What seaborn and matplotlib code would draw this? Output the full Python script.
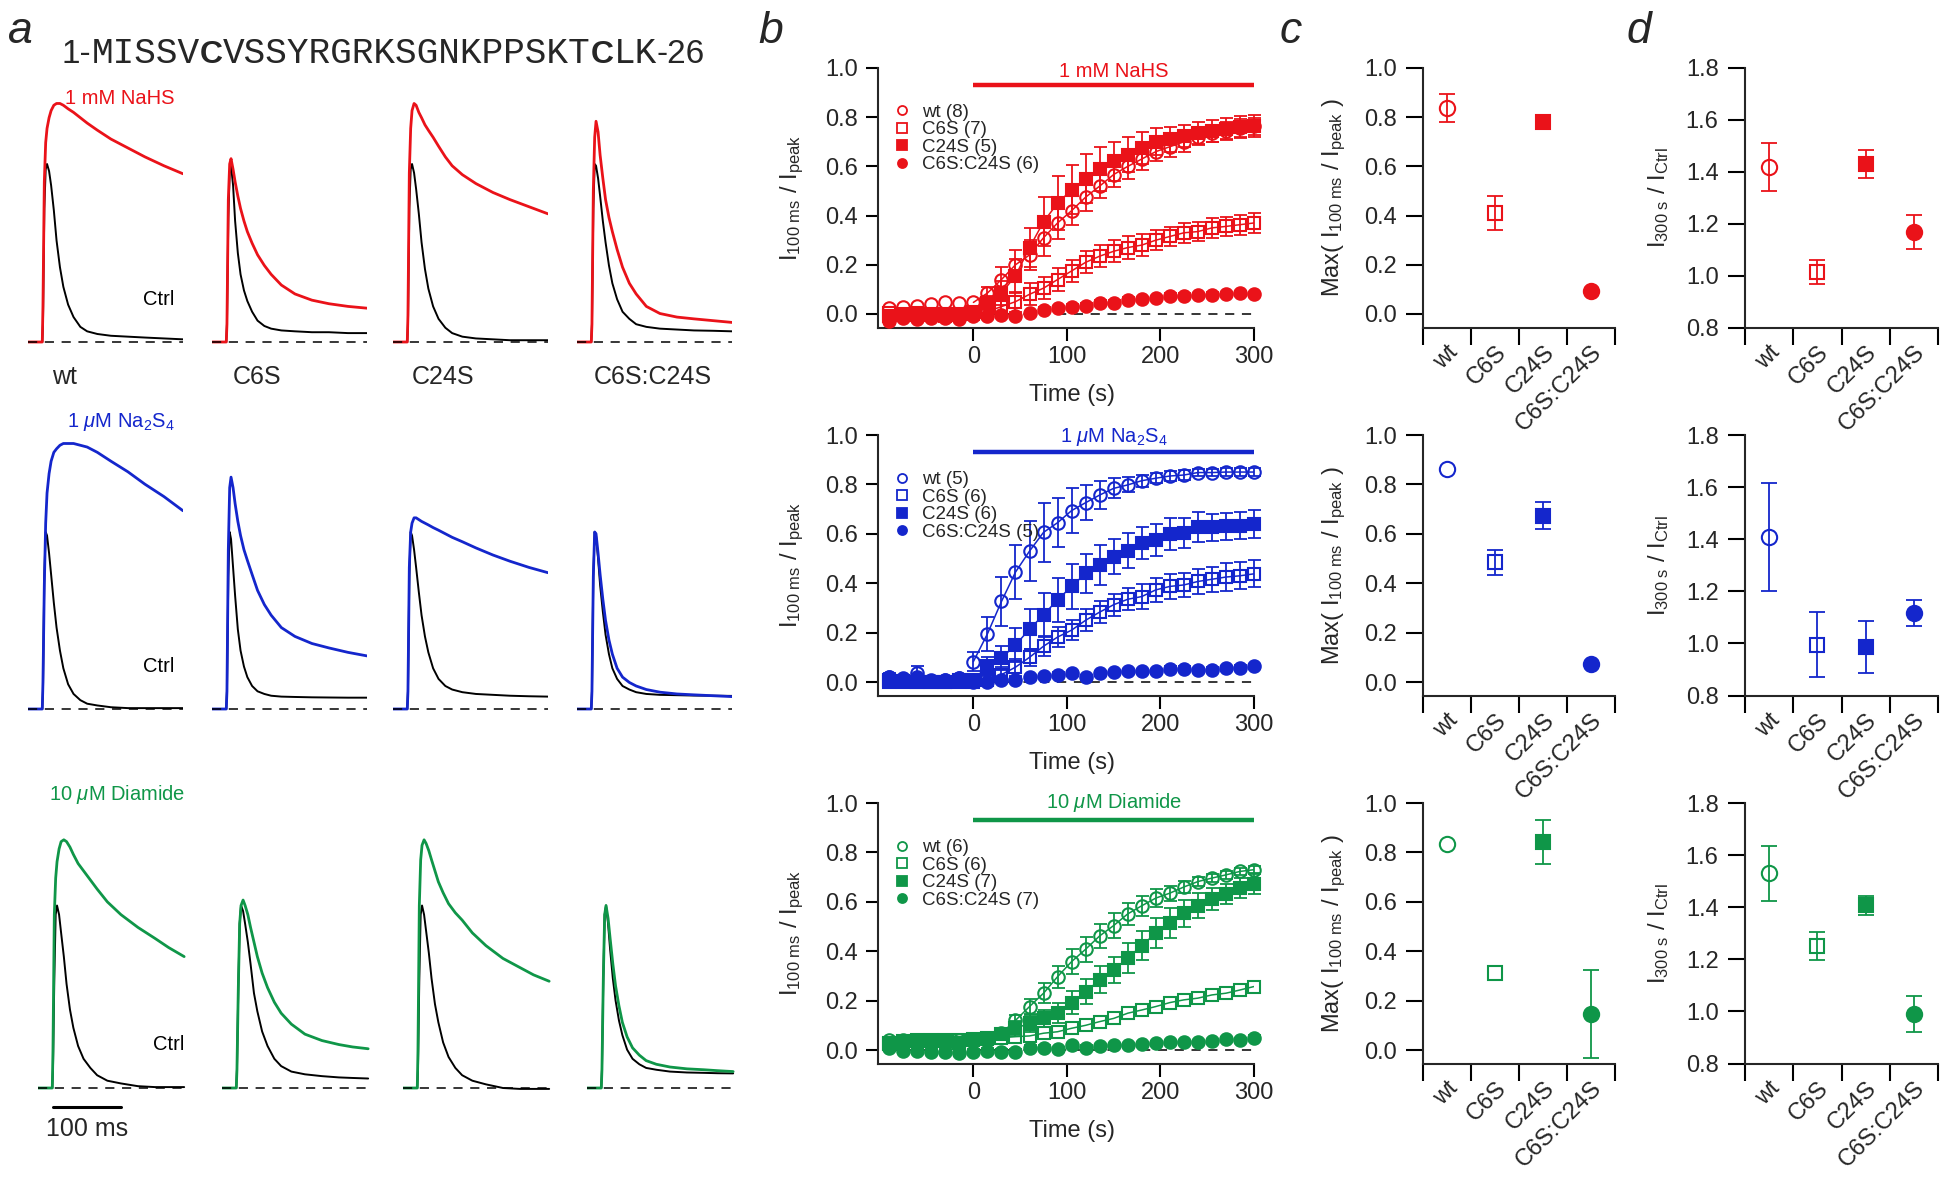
import numpy as np
import pandas as pd
import seaborn as sns
import matplotlib.pyplot as plt
from matplotlib.lines import Line2D
from matplotlib.offsetbox import TextArea, HPacker, AnchoredOffsetbox

# ---------------- data ----------------
mutants = ['wt', 'C6S', 'C24S', 'C6S:C24S']
drugs = ['1 mM NaHS', r'1 $\mathit{\mu}$M Na$_2$S$_4$', r'10 $\mathit{\mu}$M Diamide']
colors = ['#EA1219', '#1426CC', '#0F9648']
n_cells = [[8, 7, 5, 6], [5, 6, 6, 5], [6, 6, 7, 7]]

# panel a: currents normalised to control peak, time in ms from stimulus
t_ms = [-22, -1, 0, 2, 4, 6, 9, 12, 16, 20, 25, 30, 37, 45, 55, 65, 80, 100, 125, 150, 178, 206]
t_ms_diam = [-22, -1, 0, 2, 4, 6, 9, 12, 16, 20, 25, 30, 37, 45, 55, 65, 80, 100, 125, 150, 170, 193]

nahs_ctrl = [
    [0, 0, 0.1, 0.75, 0.97, 1.0, 0.96, 0.88, 0.74, 0.57, 0.42, 0.31, 0.21, 0.14, 0.085, 0.06, 0.045, 0.035, 0.03, 0.025, 0.02, 0.015],
    [0, 0, 0.1, 0.7, 0.95, 0.99, 0.88, 0.68, 0.50, 0.38, 0.29, 0.23, 0.17, 0.12, 0.09, 0.075, 0.065, 0.06, 0.055, 0.055, 0.05, 0.05],
    [0, 0, 0.1, 0.75, 0.97, 1.0, 0.95, 0.86, 0.72, 0.56, 0.41, 0.30, 0.20, 0.13, 0.08, 0.05, 0.03, 0.02, 0.015, 0.01, 0.01, 0.01],
    [0, 0, 0.1, 0.75, 1.0, 0.99, 0.92, 0.82, 0.68, 0.56, 0.43, 0.33, 0.24, 0.17, 0.13, 0.10, 0.085, 0.075, 0.07, 0.065, 0.063, 0.06],
]
nahs_drug = [
    [0, 0, 0.2, 0.9, 1.12, 1.2, 1.26, 1.3, 1.33, 1.34, 1.34, 1.33, 1.31, 1.29, 1.26, 1.23, 1.19, 1.14, 1.09, 1.04, 0.99, 0.945],
    [0, 0, 0.1, 0.8, 1.0, 1.03, 0.97, 0.9, 0.82, 0.75, 0.68, 0.62, 0.555, 0.49, 0.43, 0.38, 0.32, 0.27, 0.235, 0.215, 0.2, 0.19],
    [0, 0, 0.15, 0.95, 1.2, 1.3, 1.34, 1.33, 1.29, 1.26, 1.22, 1.19, 1.15, 1.10, 1.04, 0.99, 0.94, 0.89, 0.84, 0.80, 0.76, 0.72],
    [0, 0, 0.1, 0.85, 1.15, 1.24, 1.18, 1.05, 0.92, 0.80, 0.70, 0.62, 0.52, 0.42, 0.33, 0.27, 0.20, 0.16, 0.14, 0.13, 0.12, 0.11],
]
na2s4_ctrl = [
    [0, 0, 0.1, 0.75, 1.0, 0.98, 0.88, 0.76, 0.60, 0.46, 0.33, 0.23, 0.14, 0.085, 0.05, 0.03, 0.02, 0.01, 0.005, 0.005, 0.005, 0.005],
    [0, 0, 0.1, 0.75, 1.0, 0.96, 0.80, 0.64, 0.45, 0.33, 0.24, 0.18, 0.13, 0.10, 0.085, 0.075, 0.07, 0.068, 0.066, 0.065, 0.064, 0.064],
    [0, 0, 0.1, 0.75, 1.0, 0.98, 0.90, 0.80, 0.66, 0.53, 0.41, 0.32, 0.23, 0.17, 0.13, 0.11, 0.095, 0.085, 0.08, 0.075, 0.072, 0.07],
    [0, 0, 0.1, 0.75, 1.0, 0.98, 0.85, 0.70, 0.55, 0.42, 0.31, 0.23, 0.17, 0.13, 0.11, 0.095, 0.085, 0.08, 0.078, 0.076, 0.075, 0.074],
]
na2s4_drug = [
    [0, 0, 0.15, 0.7, 1.05, 1.22, 1.33, 1.40, 1.45, 1.47, 1.49, 1.50, 1.50, 1.50, 1.49, 1.48, 1.45, 1.40, 1.34, 1.27, 1.20, 1.12],
    [0, 0, 0.1, 0.9, 1.25, 1.31, 1.25, 1.16, 1.06, 0.98, 0.90, 0.84, 0.76, 0.67, 0.59, 0.53, 0.46, 0.41, 0.37, 0.345, 0.32, 0.30],
    [0, 0, 0.1, 0.8, 1.0, 1.05, 1.08, 1.08, 1.07, 1.06, 1.05, 1.04, 1.025, 1.01, 0.99, 0.97, 0.945, 0.91, 0.87, 0.835, 0.80, 0.77],
    [0, 0, 0.1, 0.75, 1.0, 0.99, 0.88, 0.76, 0.62, 0.50, 0.39, 0.31, 0.23, 0.18, 0.15, 0.13, 0.11, 0.095, 0.085, 0.08, 0.075, 0.07],
]
diam_ctrl = [
    [0, 0, 0.1, 0.6, 0.95, 1.0, 0.95, 0.85, 0.72, 0.57, 0.43, 0.33, 0.23, 0.16, 0.11, 0.07, 0.04, 0.025, 0.01, 0.005, 0.005, 0.005],
    [0, 0, 0.1, 0.55, 0.9, 1.0, 0.97, 0.9, 0.8, 0.68, 0.52, 0.42, 0.31, 0.23, 0.16, 0.12, 0.09, 0.075, 0.065, 0.058, 0.055, 0.052],
    [0, 0, 0.1, 0.6, 0.95, 1.0, 0.95, 0.86, 0.74, 0.6, 0.46, 0.36, 0.25, 0.17, 0.11, 0.07, 0.04, 0.02, 0.0, -0.005, -0.005, -0.005],
    [0, 0, 0.1, 0.6, 0.95, 1.0, 0.9, 0.76, 0.6, 0.48, 0.37, 0.29, 0.21, 0.16, 0.13, 0.11, 0.1, 0.09, 0.085, 0.083, 0.081, 0.08],
]
diam_drug = [
    [0, 0, 0.2, 0.95, 1.15, 1.24, 1.31, 1.35, 1.36, 1.35, 1.32, 1.28, 1.23, 1.19, 1.14, 1.09, 1.02, 0.95, 0.88, 0.82, 0.77, 0.72],
    [0, 0, 0.1, 0.55, 0.9, 1.0, 1.03, 1.0, 0.95, 0.88, 0.80, 0.72, 0.63, 0.55, 0.47, 0.41, 0.35, 0.295, 0.26, 0.238, 0.225, 0.215],
    [0, 0, 0.2, 1.0, 1.25, 1.33, 1.36, 1.34, 1.30, 1.25, 1.19, 1.13, 1.07, 1.01, 0.96, 0.92, 0.85, 0.78, 0.71, 0.66, 0.62, 0.585],
    [0, 0, 0.1, 0.6, 0.95, 1.0, 0.93, 0.82, 0.68, 0.56, 0.45, 0.36, 0.28, 0.22, 0.18, 0.15, 0.13, 0.115, 0.105, 0.1, 0.095, 0.09],
]
scale_ms = 100

# panel b: I100ms / Ipeak time courses (mean +/- SEM)
t_s = [-90, -75, -60, -45, -30, -15, 0, 15, 30, 45, 60, 75, 90, 105, 120, 135,
       150, 165, 180, 195, 210, 225, 240, 255, 270, 285, 300]

nahs_wt = [0.024, 0.03, 0.034, 0.04, 0.047, 0.045, 0.047, 0.085, 0.14, 0.20, 0.24, 0.31, 0.37, 0.42,
           0.475, 0.52, 0.567, 0.60, 0.63, 0.66, 0.68, 0.70, 0.72, 0.735, 0.745, 0.756, 0.763]
nahs_wt_err = [0, 0, 0, 0, 0, 0, 0, 0.025, 0.05, 0.06, 0.06, 0.075, 0.065, 0.06,
               0.055, 0.05, 0.05, 0.05, 0.045, 0.04, 0.04, 0.04, 0.035, 0.035, 0.035, 0.035, 0.035]
nahs_c6s = [0.005, 0.0, 0.005, 0.0, 0.0, 0.0, 0.0, 0.01, 0.03, 0.05, 0.08, 0.105, 0.14, 0.175,
            0.21, 0.235, 0.255, 0.27, 0.28, 0.30, 0.315, 0.33, 0.335, 0.35, 0.356, 0.363, 0.37]
nahs_c6s_err = [0, 0, 0, 0, 0, 0, 0, 0.02, 0.03, 0.04, 0.045, 0.045, 0.045, 0.045,
                0.045, 0.045, 0.045, 0.045, 0.045, 0.04, 0.04, 0.04, 0.04, 0.04, 0.04, 0.04, 0.04]
nahs_c24s = [-0.01, -0.005, -0.005, -0.005, -0.01, -0.005, 0.01, 0.045, 0.085, 0.155, 0.27, 0.375, 0.45,
             0.505, 0.55, 0.59, 0.62, 0.648, 0.675, 0.70, 0.71, 0.725, 0.736, 0.745, 0.752, 0.759, 0.763]
nahs_c24s_err = [0.015, 0.015, 0.015, 0.015, 0.015, 0.015, 0.015, 0.03, 0.05, 0.07, 0.08, 0.1, 0.11, 0.1,
                 0.1, 0.09, 0.08, 0.07, 0.065, 0.055, 0.05, 0.045, 0.045, 0.045, 0.045, 0.045, 0.045]
nahs_dbl = [-0.03, -0.015, -0.02, -0.015, -0.015, -0.02, -0.01, -0.01, -0.005, -0.01, 0.004, 0.018, 0.024,
            0.03, 0.034, 0.045, 0.045, 0.058, 0.061, 0.065, 0.075, 0.075, 0.077, 0.078, 0.081, 0.085, 0.081]
nahs_dbl_err = [0.01] * 27

na2s4_wt = [0.02, 0.01, 0.035, 0.01, 0.01, 0.015, 0.083, 0.195, 0.326, 0.445, 0.53, 0.606, 0.645, 0.694,
            0.726, 0.757, 0.784, 0.798, 0.815, 0.825, 0.834, 0.838, 0.848, 0.848, 0.85, 0.85, 0.85]
na2s4_wt_err = [0.015, 0, 0.03, 0, 0, 0, 0.04, 0.07, 0.1, 0.11, 0.12, 0.12, 0.1, 0.09,
                0.07, 0.055, 0.04, 0.03, 0.025, 0.02, 0.02, 0.02, 0.015, 0.015, 0.015, 0.015, 0.015]
na2s4_c6s = [0.0, 0.0, 0.0, 0.0, 0.0, 0.0, 0.0, 0.01, 0.03, 0.06, 0.10, 0.145, 0.182, 0.21,
             0.25, 0.283, 0.313, 0.335, 0.346, 0.373, 0.387, 0.393, 0.407, 0.416, 0.425, 0.43, 0.438]
na2s4_c6s_err = [0, 0, 0, 0, 0, 0, 0, 0.02, 0.03, 0.035, 0.035, 0.04, 0.04, 0.04,
                 0.045, 0.045, 0.045, 0.045, 0.05, 0.05, 0.05, 0.05, 0.05, 0.05, 0.055, 0.055, 0.055]
na2s4_c24s = [0.01, 0.005, 0.0, 0.0, 0.0, 0.01, 0.01, 0.063, 0.097, 0.15, 0.214, 0.272, 0.333, 0.387,
              0.44, 0.474, 0.508, 0.532, 0.562, 0.575, 0.60, 0.602, 0.627, 0.627, 0.63, 0.632, 0.64]
na2s4_c24s_err = [0.02, 0.01, 0.01, 0.01, 0.01, 0.01, 0.01, 0.04, 0.05, 0.07, 0.08, 0.09, 0.09, 0.09,
                  0.08, 0.08, 0.07, 0.07, 0.065, 0.065, 0.065, 0.06, 0.06, 0.055, 0.055, 0.055, 0.055]
na2s4_dbl = [0.02, 0.015, 0.02, 0.005, 0.01, 0.015, 0.0, 0.0, 0.01, 0.01, 0.02, 0.023, 0.03, 0.036,
             0.019, 0.036, 0.039, 0.043, 0.043, 0.043, 0.053, 0.053, 0.047, 0.05, 0.055, 0.057, 0.063]
na2s4_dbl_err = [0.01] * 27

diam_wt = [0.04, 0.04, 0.04, 0.04, 0.04, 0.04, 0.04, 0.045, 0.068, 0.12, 0.176, 0.23, 0.297, 0.358,
           0.408, 0.462, 0.504, 0.551, 0.584, 0.615, 0.635, 0.66, 0.682, 0.696, 0.709, 0.723, 0.73]
diam_wt_err = [0, 0, 0, 0, 0, 0, 0, 0, 0.015, 0.02, 0.03, 0.04, 0.045, 0.05,
               0.05, 0.05, 0.05, 0.045, 0.04, 0.035, 0.03, 0.025, 0.02, 0.015, 0.015, 0.015, 0.015]
diam_c6s = [0.03, 0.035, 0.04, 0.04, 0.04, 0.04, 0.045, 0.045, 0.05, 0.054, 0.057, 0.068, 0.074, 0.088,
            0.10, 0.115, 0.128, 0.149, 0.162, 0.176, 0.192, 0.203, 0.21, 0.223, 0.23, 0.243, 0.257]
diam_c6s_err = [0.0] * 27
diam_c24s = [0.025, 0.03, 0.035, 0.035, 0.035, 0.03, 0.04, 0.05, 0.065, 0.088, 0.108, 0.128, 0.149,
             0.192, 0.236, 0.284, 0.324, 0.372, 0.423, 0.473, 0.514, 0.554, 0.584, 0.612, 0.632, 0.655, 0.673]
diam_c24s_err = [0.01, 0.01, 0.01, 0.01, 0.01, 0.01, 0.015, 0.02, 0.025, 0.03, 0.035, 0.035, 0.04, 0.045,
                 0.05, 0.055, 0.054, 0.06, 0.06, 0.06, 0.06, 0.055, 0.05, 0.045, 0.04, 0.04, 0.04]
diam_dbl = [0.007, -0.003, -0.003, -0.007, -0.007, -0.013, -0.007, -0.003, -0.007, -0.007, 0.01, 0.01,
            0.003, 0.02, 0.01, 0.016, 0.02, 0.02, 0.024, 0.027, 0.032, 0.032, 0.032, 0.036, 0.043, 0.04, 0.049]
diam_dbl_err = [0.01] * 27

# panel c: Max(I100ms / Ipeak); panel d: I300s / ICtrl
c_nahs = [0.837, 0.41, 0.78, 0.092]
c_nahs_err = [0.057, 0.068, 0.0, 0.0]
c_na2s4 = [0.861, 0.484, 0.674, 0.073]
c_na2s4_err = [0.0, 0.05, 0.055, 0.0]
c_diam = [0.835, 0.313, 0.842, 0.146]
c_diam_err = [0.0, 0.0, 0.089, 0.177]
d_nahs = [1.419, 1.013, 1.43, 1.168]
d_nahs_err = [0.093, 0.046, 0.053, 0.066]
d_na2s4 = [1.408, 0.995, 0.985, 1.117]
d_na2s4_err = [0.208, 0.125, 0.1, 0.05]
d_diam = [1.530, 1.251, 1.408, 0.99]
d_diam_err = [0.105, 0.055, 0.037, 0.068]

# ---------------- style ----------------
sns.set_style('ticks')
plt.rcParams['font.family'] = ['Liberation Sans', 'DejaVu Sans']
plt.rcParams['mathtext.fontset'] = 'custom'
plt.rcParams['mathtext.rm'] = 'Liberation Sans'
plt.rcParams['mathtext.it'] = 'Liberation Sans:italic'
plt.rcParams['mathtext.bf'] = 'Liberation Sans:bold'
plt.rcParams['mathtext.default'] = 'regular'
plt.rcParams['axes.linewidth'] = 1.5

W, H = 1950, 1178
fig = plt.figure(figsize=(W / 100, H / 100), dpi=100)


def add_ax(l, t, w, h):
    return fig.add_axes([l / W, 1 - (t + h) / H, w / W, h / H])


markers = ['o', 's', 's', 'o']
filled = [False, False, True, True]


def points(ax, x, y, err, k, col, ms, z):
    # error bars only where the SEM sticks out of the marker
    x, y, err = np.atleast_1d(x), np.atleast_1d(y), np.atleast_1d(err)
    m = err > 0
    if m.any():
        cont = ax.errorbar(x[m], y[m], yerr=err[m], fmt='none', ecolor=col, elinewidth=1.3,
                           capsize=ms * 0.52, capthick=1.3, zorder=z)
        for art in cont.get_children():
            art.set_clip_on(False)
    ax.plot(x, y, ls='none', marker=markers[k], ms=ms, mfc=col if filled[k] else 'none',
            mec=col, mew=1.5, zorder=z + 0.5, clip_on=False)


# ---------------- panel a ----------------
ctrl_rows = [nahs_ctrl, na2s4_ctrl, diam_ctrl]
drug_rows = [nahs_drug, na2s4_drug, diam_drug]
time_rows = [t_ms, t_ms, t_ms_diam]
row_base = [(342, 178), (709, 177), (1088, 182.5)]
row_starts = [[28, 212, 393, 577], [28, 212, 393, 577], [38, 222, 403, 587]]
drug_label_y = [1.37, 1.62, 1.61]
mut_label_x = [13, 9, 6, 3]

for r in range(3):
    base, unit = row_base[r]
    for k in range(4):
        ax = add_ax(row_starts[r][k], base - 1.6 * unit, 155, 1.75 * unit)
        t = time_rows[r]
        sns.lineplot(x=t, y=ctrl_rows[r][k], ax=ax, color='black', lw=1.4,
                     estimator=None, sort=False, legend=False)
        sns.lineplot(x=t, y=drug_rows[r][k], ax=ax, color=colors[r], lw=2.0,
                     estimator=None, sort=False, legend=False)
        ax.plot([t[0], t[-1]], [0, 0], color='black', lw=1.1, ls=(0, (6, 5)), zorder=5)
        ax.set_xlim(-22, 206)
        ax.set_ylim(-0.15, 1.6)
        ax.set_axis_off()
        if r == 0:
            ax.text(mut_label_x[k], -0.197, mutants[k], fontsize=18, ha='left', va='center')
        if k == 0:
            ax.text(194, drug_label_y[r], drugs[r], color=colors[r], fontsize=14.5,
                    ha='right', va='center')
            ax.text(194, 0.24, 'Ctrl', color='black', fontsize=14.5, ha='right', va='center')
            if r == 2:
                ax.plot([0, scale_ms], [-0.104, -0.104], color='black', lw=2.2, clip_on=False)
                ax.text(scale_ms / 2, -0.225, f'{scale_ms} ms', fontsize=18,
                        ha='center', va='center')

# sequence
seq_pieces = [('1-', dict(fontsize=24, family='Liberation Sans')),
              ('MISSV', dict(fontsize=26, family='Liberation Mono')),
              ('C', dict(fontsize=23, family='Liberation Sans', fontweight='bold')),
              ('VSSYRGRKSGNKPPSKT', dict(fontsize=26, family='Liberation Mono')),
              ('C', dict(fontsize=23, family='Liberation Sans', fontweight='bold')),
              ('LK', dict(fontsize=26, family='Liberation Mono')),
              ('-26', dict(fontsize=24, family='Liberation Sans'))]
pack = HPacker(children=[TextArea(s, textprops=kw) for s, kw in seq_pieces],
               align='baseline', pad=0, sep=0)
fig.add_artist(AnchoredOffsetbox(loc='lower left', child=pack, pad=0, borderpad=0,
                                 frameon=False, bbox_to_anchor=(62 / W, 1 - 71 / H),
                                 bbox_transform=fig.transFigure))

# ---------------- panels b, c, d ----------------
b_means = [[nahs_wt, nahs_c6s, nahs_c24s, nahs_dbl],
           [na2s4_wt, na2s4_c6s, na2s4_c24s, na2s4_dbl],
           [diam_wt, diam_c6s, diam_c24s, diam_dbl]]
b_errs = [[nahs_wt_err, nahs_c6s_err, nahs_c24s_err, nahs_dbl_err],
          [na2s4_wt_err, na2s4_c6s_err, na2s4_c24s_err, na2s4_dbl_err],
          [diam_wt_err, diam_c6s_err, diam_c24s_err, diam_dbl_err]]
c_vals = [(c_nahs, c_nahs_err), (c_na2s4, c_na2s4_err), (c_diam, c_diam_err)]
d_vals = [(d_nahs, d_nahs_err), (d_na2s4, d_na2s4_err), (d_diam, d_diam_err)]
fit_start = [6, 6, 0]
bar_label_y = [0.985, 0.99, 1.0]
rows_tb = [(68, 327.5), (435, 695.6), (803, 1063.6)]
cat_x = [0.5, 1.5, 2.5, 3.5]


def style_ax(ax, ticklen):
    sns.despine(ax=ax)
    ax.tick_params(axis='both', which='major', direction='out', length=ticklen, width=1.5,
                   labelsize=17, color='black')
    ax.yaxis.set_major_formatter(plt.FormatStrFormatter('%.1f'))


for r in range(3):
    top, bot = rows_tb[r]
    col = colors[r]

    # b
    ax = add_ax(878, top, 376, bot - top)
    for k in range(3):
        i0 = fit_start[r]
        sns.lineplot(x=t_s[i0:], y=b_means[r][k][i0:], ax=ax, color=col, lw=1.1,
                     estimator=None, sort=False, legend=False)
    ax.hlines(0, t_s[0], t_s[-1], color='black', lw=1.1, ls=(0, (6, 5)), zorder=1)
    for k in range(4):
        points(ax, t_s, b_means[r][k], b_errs[r][k], k, col, 9.0, 3 + k)
    ax.hlines(0.93, 0, 300, color=col, lw=3.2, clip_on=False)
    ax.text(150, bar_label_y[r], drugs[r], color=col, fontsize=14.5, ha='center', va='center')
    handles = [Line2D([], [], ls='none', marker=markers[k], ms=6.5,
                      mfc=col if filled[k] else 'none', mec=col, mew=1.3) for k in range(4)]
    labels = [f'{m} ({n})' for m, n in zip(mutants, n_cells[r])]
    ax.legend(handles, labels, loc='upper left', bbox_to_anchor=(0.04, 0.862), frameon=False,
              fontsize=13.5, handlelength=1.0, handletextpad=0.55, labelspacing=0.02,
              borderpad=0, borderaxespad=0)
    ax.set_xlim(-102, 300)
    ax.set_ylim(-0.055, 1.0)
    ax.set_xticks([0, 100, 200, 300])
    ax.set_yticks([0, 0.2, 0.4, 0.6, 0.8, 1.0])
    style_ax(ax, 9)
    ax.tick_params(axis='x', pad=4)
    ax.tick_params(axis='y', pad=5.5)
    ax.set_xlabel('Time (s)', fontsize=17, va='center')
    ax.xaxis.set_label_coords(0.517, -0.26)
    ax.set_ylabel(r'I$_{100\ ms}$ / I$_{peak}$', fontsize=17, va='center')
    ax.yaxis.set_label_coords(-0.227, 0.5)

    # c and d
    for left, width, vals, ylim, yt, ylab, labx in [
            (1423, 192, c_vals[r], (-0.055, 1.0), [0, 0.2, 0.4, 0.6, 0.8, 1.0],
             r'Max( I$_{100\ ms}$ / I$_{peak}$ )', -0.464),
            (1745, 193, d_vals[r], (0.8, 1.8), [0.8, 1.0, 1.2, 1.4, 1.6, 1.8],
             r'I$_{300\ s}$ / I$_{Ctrl}$', -0.45)]:
        ax = add_ax(left, top, width, bot - top)
        v, e = vals
        for k in range(4):
            points(ax, cat_x[k], v[k], e[k], k, col, 11 if markers[k] == 'o' else 10.5, 3)
        ax.set_xlim(0, 4)
        ax.set_ylim(*ylim)
        ax.set_yticks(yt)
        style_ax(ax, 12)
        ax.set_xticks(cat_x)
        ax.set_xticklabels(mutants, rotation=45, ha='right', rotation_mode='anchor')
        ax.set_xticks([0, 1, 2, 3, 4], minor=True)
        ax.tick_params(axis='x', which='major', length=0, pad=10)
        ax.tick_params(axis='x', which='minor', direction='out', length=12, width=1.5,
                       color='black')
        ax.tick_params(axis='y', pad=7)
        ax.set_ylabel(ylab, fontsize=17, va='center')
        ax.yaxis.set_label_coords(labx, 0.5)

# panel letters
for x, s in [(8, 'a'), (758, 'b'), (1280, 'c'), (1627, 'd')]:
    fig.text(x / W, 1 - 43 / H, s, fontsize=32, style='italic', va='baseline')

fig.savefig('out.png', dpi=100)
